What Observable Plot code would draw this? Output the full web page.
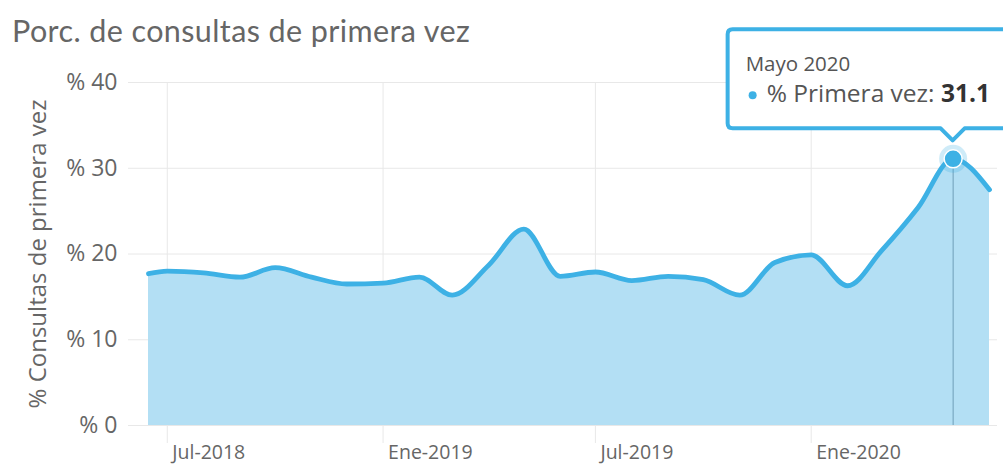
<!DOCTYPE html>
<html><head><meta charset="utf-8">
<script src="https://cdn.jsdelivr.net/npm/d3@7"></script>
<script src="https://cdn.jsdelivr.net/npm/@observablehq/plot@0.6"></script>
<style>
body{margin:0;background:#fff;width:1003px;height:465px;overflow:hidden;position:relative;font-family:"Open Sans",sans-serif}
#chart{position:absolute;left:0;top:0}
#title{position:absolute;left:12px;top:15px;font-family:Lato,sans-serif;font-size:30.5px;line-height:30.5px;letter-spacing:0.4px;color:#666;white-space:nowrap}
</style></head><body>
<div id="chart"></div>
<div id="title">Porc. de consultas de primera vez</div>
<script>
// ---- data ----
const months = ["2018-06-15","2018-07-01","2018-08-01","2018-09-01","2018-10-01","2018-11-01","2018-12-01",
  "2019-01-01","2019-02-01","2019-03-01","2019-04-01","2019-05-01","2019-06-01","2019-07-01","2019-08-01",
  "2019-09-01","2019-10-01","2019-11-01","2019-12-01","2020-01-01","2020-02-01","2020-03-01","2020-04-01",
  "2020-05-01","2020-06-01"];
const values = [17.7,18.0,17.8,17.3,18.4,17.3,16.5,
  16.6,17.3,15.2,18.7,22.9,17.4,17.9,16.9,
  17.4,17.0,15.2,19.0,19.9,16.3,20.4,25.4,
  31.1,27.5];
const yTicks = [0,10,20,30,40];
const xTickDates = ["2018-07-01","2019-01-01","2019-07-01","2020-01-01"];
const xTickLabels = ["Jul-2018","Ene-2019","Jul-2019","Ene-2020"];
const highlightMonth = "2020-05-01";
const highlightLabel = "Mayo 2020";
const seriesName = "% Primera vez";
const yLabel = "% Consultas de primera vez";

// ---- chart ----
const blue = "#3db1e5";
const data = months.map((m,i)=>({date:new Date(m+"T00:00:00Z"), value:values[i]}));
const ticks = xTickDates.map(d=>new Date(d+"T00:00:00Z"));
const tickLabelMap = new Map(ticks.map((d,i)=>[+d, xTickLabels[i]]));
const hl = data.find(d=>+d.date === +new Date(highlightMonth+"T00:00:00Z"));

const chart = Plot.plot({
  width:1003, height:465,
  marginTop:82, marginBottom:40, marginLeft:128, marginRight:6,
  style:{fontFamily:"'Open Sans',sans-serif", background:"transparent", overflow:"visible"},
  x:{type:"utc", domain:[data[0].date, data[data.length-1].date], range:[148,989]},
  y:{domain:[0,40]},
  marks:[
    Plot.gridY(yTicks,{stroke:"#e8e8e8", strokeOpacity:1}),
    Plot.ruleX(ticks,{stroke:"#e8e8e8", insetBottom:-18}),
    Plot.areaY(data,{x:"date", y:"value", fill:"#b3dff4", curve:"monotone-x"}),
    Plot.ruleX([hl],{x:"date", y1:0, y2:"value", stroke:"#6f9fb8", strokeWidth:1}),
    Plot.lineY(data,{x:"date", y:"value", stroke:blue, strokeWidth:4.8, curve:"monotone-x"}),
    Plot.dot([hl],{x:"date", y:"value", r:14, fill:blue, fillOpacity:0.25}),
    Plot.dot([hl],{x:"date", y:"value", r:9, fill:blue, stroke:"white", strokeWidth:1.5}),
    Plot.axisY(yTicks,{tickSize:0, tickPadding:11, tickFormat:d=>"% "+d, fontSize:23, color:"#666", label:null}),
    Plot.text([yLabel],{frameAnchor:"left", textAnchor:"middle", rotate:-90, dx:-90, fontSize:24, fill:"#666", letterSpacing:"0.3px"}),
    Plot.axisX(ticks,{tickSize:0, tickPadding:20, textAnchor:"start", dx:5, tickFormat:d=>tickLabelMap.get(+d), fontSize:19.5, color:"#666", label:null})
  ]
});
document.getElementById("chart").appendChild(chart);

// ---- tooltip anchored to the highlighted point ----
const px = chart.scale("x").apply(hl.date), py = chart.scale("y").apply(hl.value);
const svg = d3.select(chart);
const L = px-225, R = px+70, T = py-129, B = py-30, r = 5;
const path = `M${L+r},${T} H${R} V${B} H${px+12} L${px},${B+12} L${px-12},${B} H${L+r} Q${L},${B} ${L},${B-r} V${T+r} Q${L},${T} ${L+r},${T} Z`;
const g = svg.append("g").attr("text-anchor","start");
g.append("path").attr("d",path).attr("fill","white").attr("stroke",blue).attr("stroke-width",4).attr("stroke-linejoin","round");
g.append("text").attr("x",px-207).attr("y",py-87).attr("font-size",20.5).attr("fill","#555").text(highlightLabel);
g.append("circle").attr("cx",px-200).attr("cy",py-63).attr("r",4).attr("fill",blue);
const t2 = g.append("text").attr("x",px-186).attr("y",py-56).attr("font-size",24.5).attr("fill","#555");
t2.append("tspan").text(seriesName+": ");
t2.append("tspan").attr("font-weight","bold").attr("fill","#333").text(hl.value.toFixed(1));
</script>
</body></html>
